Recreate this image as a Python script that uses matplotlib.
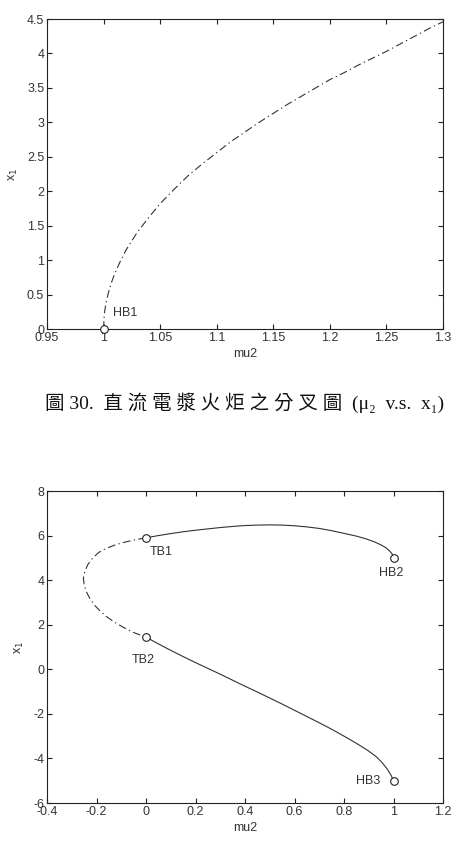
import matplotlib
matplotlib.use("Agg")
import matplotlib.pyplot as plt

# --- Data ---
# Top plot: HB1 branch (unstable, dash-dot)
top_mu2 = [1.0, 1.0005, 1.001, 1.0025, 1.005, 1.0075, 1.01, 1.015, 1.02, 1.025, 1.03, 1.04, 1.05, 1.0625,
           1.075, 1.0875, 1.1, 1.1125, 1.125, 1.1375, 1.15, 1.1625, 1.175, 1.1875, 1.2, 1.2125, 1.225,
           1.2375, 1.25, 1.2625, 1.275, 1.2875, 1.3]
top_x1 = [0.0, 0.18, 0.26, 0.41, 0.57, 0.70, 0.81, 0.99, 1.15, 1.28, 1.41, 1.62, 1.82, 2.03,
          2.23, 2.40, 2.56, 2.72, 2.86, 3.00, 3.13, 3.26, 3.38, 3.50, 3.62, 3.72, 3.83,
          3.93, 4.03, 4.14, 4.25, 4.36, 4.46]
top_points = {"HB1": (1.0, 0.0)}

# Bottom plot: upper stable branch HB2 -> TB1 (solid)
upper_mu2 = [1.0, 0.998, 0.993, 0.985, 0.97, 0.946, 0.92, 0.89, 0.852, 0.8, 0.75, 0.7, 0.65, 0.6,
             0.55, 0.5, 0.45, 0.4, 0.35, 0.3, 0.25, 0.2, 0.15, 0.1, 0.05, 0.0]
upper_x1 = [5.0, 5.1, 5.2, 5.3, 5.45, 5.6, 5.73, 5.85, 5.97, 6.1, 6.22, 6.32, 6.39, 6.44,
            6.47, 6.48, 6.47, 6.45, 6.41, 6.36, 6.30, 6.24, 6.17, 6.09, 6.00, 5.90]
# middle unstable branch TB1 -> TB2 (dash-dot)
mid_mu2 = [0.0, -0.04, -0.08, -0.12, -0.16, -0.19, -0.215, -0.235, -0.247, -0.253, -0.25, -0.242,
           -0.228, -0.21, -0.186, -0.16, -0.13, -0.091, -0.05, 0.0]
mid_x1 = [5.90, 5.82, 5.72, 5.60, 5.43, 5.25, 5.0, 4.7, 4.4, 4.1, 3.8, 3.5,
          3.2, 2.9, 2.62, 2.37, 2.13, 1.88, 1.65, 1.44]
# lower stable branch TB2 -> HB3 (solid)
lower_mu2 = [0.0, 0.05, 0.1, 0.15, 0.2, 0.25, 0.3, 0.35, 0.4, 0.45, 0.5, 0.55, 0.6, 0.65, 0.7,
             0.75, 0.8, 0.85, 0.9, 0.93, 0.955, 0.975, 0.99, 1.0]
lower_x1 = [1.44, 1.14, 0.85, 0.57, 0.30, 0.04, -0.22, -0.49, -0.76, -1.02, -1.29, -1.56, -1.84,
            -2.12, -2.40, -2.69, -3.0, -3.32, -3.67, -3.92, -4.2, -4.48, -4.75, -5.0]
bottom_points = {"TB1": (0.0, 5.90), "TB2": (0.0, 1.44), "HB2": (1.0, 5.0), "HB3": (1.0, -5.0)}

top_xticks = [0.95, 1.0, 1.05, 1.1, 1.15, 1.2, 1.25, 1.3]
top_xticklabels = ["0.95", "1", "1.05", "1.1", "1.15", "1.2", "1.25", "1.3"]
top_yticks = [0, 0.5, 1, 1.5, 2, 2.5, 3, 3.5, 4, 4.5]
top_yticklabels = ["0", "0.5", "1", "1.5", "2", "2.5", "3", "3.5", "4", "4.5"]
bot_xticks = [-0.4, -0.2, 0, 0.2, 0.4, 0.6, 0.8, 1.0, 1.2]
bot_xticklabels = ["-0.4", "-0.2", "0", "0.2", "0.4", "0.6", "0.8", "1", "1.2"]
bot_yticks = [-6, -4, -2, 0, 2, 4, 6, 8]
bot_yticklabels = ["-6", "-4", "-2", "0", "2", "4", "6", "8"]

caption = "圖 30.  直 流 電 漿 火 炬 之 分 叉 圖  (μ₂  v.s.  x₁)"

plt.rcParams['font.family'] = ['Liberation Sans', 'DejaVu Sans']
fig = plt.figure(figsize=(4.54, 8.59), dpi=100)
W, H = 454, 859

def make_ax(left, top, right, bottom):
    return fig.add_axes([left / W, 1 - bottom / H, (right - left) / W, (bottom - top) / H])

tick_color = "#333333"
dashdot = (0, (7, 3, 1.2, 3))
FS = 9

def style(ax, xt, xtl, yt, ytl, xlim, ylim):
    ax.set_xlim(*xlim)
    ax.set_ylim(*ylim)
    ax.set_xticks(xt)
    ax.set_xticklabels(xtl)
    ax.set_yticks(yt)
    ax.set_yticklabels(ytl)
    ax.tick_params(direction='in', top=True, right=True, length=3.5, width=0.8,
                   labelsize=FS, colors='#222222', labelcolor=tick_color)
    ax.tick_params(axis='x', pad=2)
    ax.tick_params(axis='y', pad=2)
    for s in ax.spines.values():
        s.set_linewidth(0.8)
        s.set_color('#222222')
    ax.set_xlabel("mu2", fontsize=FS, color=tick_color, labelpad=3)
    ax.set_ylabel("x$_1$", fontsize=FS, color=tick_color, labelpad=5)

# Top axes
ax1 = make_ax(47, 19, 443, 329)
ax1.plot(top_mu2, top_x1, color='#333333', lw=0.8, linestyle=dashdot)
for name, (px, py) in top_points.items():
    ax1.plot(px, py, 'o', mfc='white', mec='#222222', ms=5.5, mew=0.8, clip_on=False, zorder=5)
ax1.text(1.008, 0.23, "HB1", fontsize=FS, color=tick_color, ha='left', va='center')
style(ax1, top_xticks, top_xticklabels, top_yticks, top_yticklabels, (0.95, 1.3), (0, 4.5))

# Caption
fig.text(245 / W, 1 - 403 / H, caption, fontsize=14, ha='center', va='center',
         family=['Liberation Serif', 'Noto Sans CJK TC', 'DejaVu Sans'], color='#111111')

# Bottom axes
ax2 = make_ax(47, 491, 443, 803)
ax2.plot(upper_mu2, upper_x1, color='#333333', lw=0.8, linestyle='-')
ax2.plot(mid_mu2, mid_x1, color='#333333', lw=0.8, linestyle=dashdot)
ax2.plot(lower_mu2, lower_x1, color='#333333', lw=0.8, linestyle='-')
for name, (px, py) in bottom_points.items():
    ax2.plot(px, py, 'o', mfc='white', mec='#222222', ms=5.5, mew=0.8, zorder=5)
ax2.text(0.015, 5.27, "TB1", fontsize=FS, color=tick_color, ha='left', va='center')
ax2.text(-0.01, 0.41, "TB2", fontsize=FS, color=tick_color, ha='center', va='center')
ax2.text(0.99, 4.3, "HB2", fontsize=FS, color=tick_color, ha='center', va='center')
ax2.text(0.945, -5.0, "HB3", fontsize=FS, color=tick_color, ha='right', va='center')
style(ax2, bot_xticks, bot_xticklabels, bot_yticks, bot_yticklabels, (-0.4, 1.2), (-6, 8))

fig.savefig("out.png", dpi=100)
